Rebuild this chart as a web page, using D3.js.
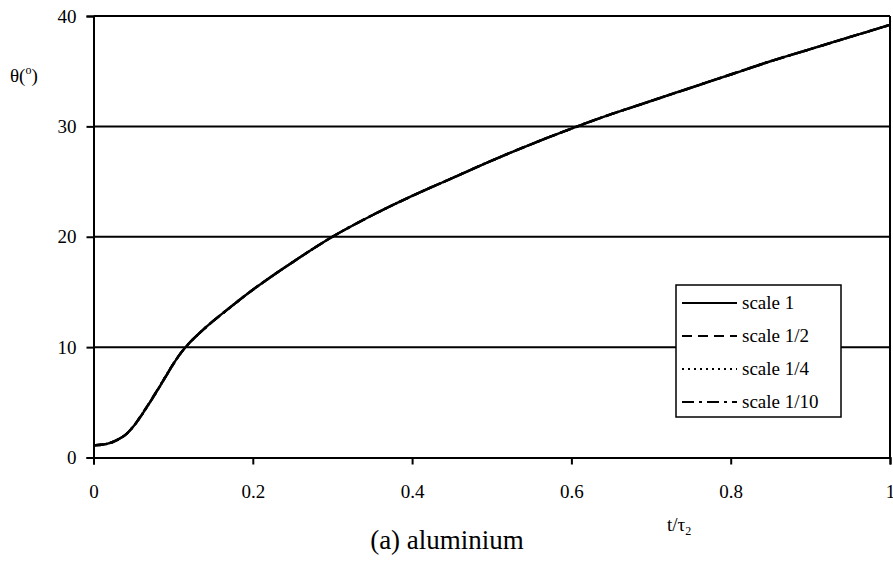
<!DOCTYPE html>
<html>
<head>
<meta charset="utf-8">
<script src="https://cdn.jsdelivr.net/npm/d3@7/dist/d3.min.js"></script>
<style>
  body { margin: 0; background: #fff; }
  svg text { fill: #000; }
</style>
</head>
<body>
<div id="chart"></div>
<script>
var FONT = '"Liberation Serif", Tinos, "Times New Roman", Times, "DejaVu Serif", serif';

// t / tau2 sample points
var tValues = [0, 0.01, 0.02, 0.03, 0.04, 0.05, 0.06, 0.07, 0.08, 0.09, 0.1, 0.11, 0.12, 0.135, 0.15, 0.175, 0.2, 0.25, 0.3, 0.35, 0.4, 0.45, 0.5, 0.55, 0.6, 0.65, 0.7, 0.75, 0.8, 0.85, 0.9, 0.95, 1.0];
// theta (deg) for each scale (curves overlap)
var scale1   = [1.1, 1.15, 1.3, 1.6, 2.05, 2.8, 3.8, 4.9, 6.05, 7.25, 8.45, 9.5, 10.35, 11.4, 12.35, 13.8, 15.2, 17.7, 20.0, 21.95, 23.7, 25.3, 26.9, 28.4, 29.8, 31.1, 32.3, 33.5, 34.7, 35.9, 37.0, 38.1, 39.2];
var scale1_2 = [1.1, 1.15, 1.3, 1.6, 2.05, 2.8, 3.85, 4.95, 6.1, 7.25, 8.45, 9.5, 10.35, 11.4, 12.35, 13.8, 15.2, 17.7, 20.0, 21.95, 23.7, 25.3, 26.9, 28.4, 29.8, 31.1, 32.3, 33.5, 34.7, 35.9, 37.0, 38.1, 39.2];
var scale1_4 = [1.1, 1.15, 1.3, 1.6, 2.05, 2.8, 3.8, 4.9, 6.05, 7.3, 8.45, 9.5, 10.35, 11.4, 12.35, 13.8, 15.2, 17.7, 20.0, 21.95, 23.7, 25.3, 26.9, 28.4, 29.8, 31.1, 32.3, 33.5, 34.7, 35.9, 37.0, 38.1, 39.2];
var scale1_10= [1.1, 1.15, 1.3, 1.6, 2.05, 2.8, 3.8, 4.9, 6.05, 7.25, 8.45, 9.5, 10.35, 11.4, 12.35, 13.8, 15.2, 17.7, 20.0, 21.95, 23.7, 25.3, 26.9, 28.4, 29.8, 31.1, 32.3, 33.5, 34.7, 35.9, 37.0, 38.1, 39.2];

var seriesNames = ['scale 1', 'scale 1/2', 'scale 1/4', 'scale 1/10'];
var seriesDash = ['none', '10,6', '2,4', '12,5,3,5'];
var xTicks = [0, 0.2, 0.4, 0.6, 0.8, 1];
var yTicks = [0, 10, 20, 30, 40];

var allSeries = [scale1, scale1_2, scale1_4, scale1_10];

var width = 893, height = 570;
var svg = d3.select('#chart').append('svg')
    .attr('width', width)
    .attr('height', height)
    .style('font-family', FONT);

var x = d3.scaleLinear().domain([0, 1]).range([93.5, 890]);
var y = d3.scaleLinear().domain([0, 40]).range([457.5, 16]);

//-----gridlines-------
svg.append('g').selectAll('line')
    .data(yTicks.filter(function(d){ return d > 0; }))
    .enter().append('line')
        .attr('x1', x(0)).attr('x2', x(1))
        .attr('y1', function(d){ return y(d); })
        .attr('y2', function(d){ return y(d); })
        .attr('stroke', '#000').attr('stroke-width', 2);

// right border
svg.append('line')
    .attr('x1', x(1)).attr('x2', x(1))
    .attr('y1', y(40)).attr('y2', y(0))
    .attr('stroke', '#000').attr('stroke-width', 2);

//-----Y-------
var yAxis = d3.axisLeft(y).tickValues(yTicks).tickSize(7).tickPadding(10).tickFormat(d3.format('d'));
var gy = svg.append('g').attr('transform', 'translate(' + x(0) + ',0)').call(yAxis);
gy.attr('font-family', null).attr('font-size', 19);
gy.select('.domain').attr('stroke-width', 2);
gy.selectAll('.tick line').attr('stroke-width', 2);

//-----X-------
var xAxis = d3.axisBottom(x).tickValues(xTicks).tickSize(7).tickPadding(20).tickFormat(function(d){ return d === 0 || d === 1 ? d3.format('d')(d) : d3.format('.1f')(d); });
var gx = svg.append('g').attr('transform', 'translate(0,' + y(0) + ')').call(xAxis);
gx.attr('font-family', null).attr('font-size', 19);
gx.select('.domain').attr('stroke-width', 2);
gx.selectAll('.tick line').attr('stroke-width', 2);

//-----curves-------
var line = d3.line()
    .x(function(d, i){ return x(tValues[i]); })
    .y(function(d){ return y(d); })
    .curve(d3.curveCatmullRom);

allSeries.forEach(function(s, k){
    svg.append('path')
        .datum(s)
        .attr('d', line)
        .attr('fill', 'none')
        .attr('stroke', '#000')
        .attr('stroke-width', 2.4)
        .attr('stroke-dasharray', seriesDash[k]);
});

//-----legend-------
var legend = svg.append('g');
legend.append('rect')
    .attr('x', 676).attr('y', 285)
    .attr('width', 165).attr('height', 132)
    .attr('fill', '#fff').attr('stroke', '#000').attr('stroke-width', 1.5);

seriesNames.forEach(function(name, k){
    var ly = 303 + k * 33;
    legend.append('line')
        .attr('x1', 682).attr('x2', 737)
        .attr('y1', ly).attr('y2', ly)
        .attr('stroke', '#000').attr('stroke-width', 2)
        .attr('stroke-dasharray', seriesDash[k]);
    legend.append('text')
        .attr('x', 742).attr('y', ly + 6)
        .attr('font-size', 19)
        .text(name);
});

//-----labels-------
var yl = svg.append('text').attr('x', 10).attr('y', 82).attr('font-size', 19);
yl.append('tspan').text('θ(');
yl.append('tspan').attr('font-size', 12).attr('dy', -8).text('o');
yl.append('tspan').attr('dy', 8).text(')');

var xl = svg.append('text').attr('x', 667).attr('y', 531).attr('font-size', 19);
xl.append('tspan').text('t/τ');
xl.append('tspan').attr('font-size', 12).attr('dy', 4).text('2');

svg.append('text')
    .attr('x', 447).attr('y', 549)
    .attr('text-anchor', 'middle')
    .attr('font-size', 27)
    .text('(a) aluminium');
</script>
</body>
</html>
